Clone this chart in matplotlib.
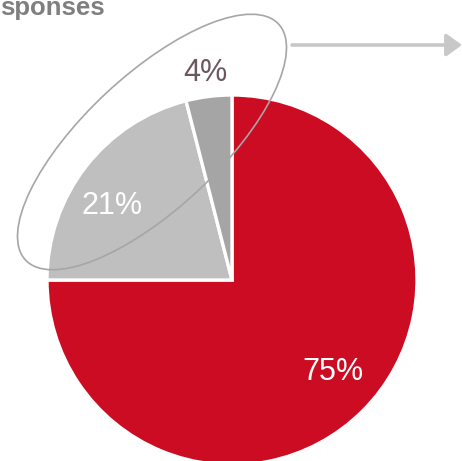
import matplotlib
matplotlib.use("Agg")
import matplotlib.pyplot as plt
from matplotlib.patches import Ellipse, FancyArrowPatch
import numpy as np

plt.rcParams['font.family'] = ['Liberation Sans', 'DejaVu Sans']

# Share of responses per answer
categories = ["Yes", "No", "Don't know"]
shares = [75, 21, 4]
slice_colors = ["#CB0C22", "#BFBFBF", "#A5A5A5"]
label_colors = ["white", "white", "#6B5661"]
# label placement: radial distance (fraction of radius) and angular nudge (deg)
label_dist = [0.74, 0.76, 1.13]
label_nudge = [2.5, 6.0, 0.0]
title = "sponses"

W, H = 462, 461
fig = plt.figure(figsize=(W / 100, H / 100), dpi=100)
ax = fig.add_axes([0, 0, 1, 1])

cx, cy, r = 232, H - 280, 185
wedges, _ = ax.pie(shares, colors=slice_colors, startangle=90, counterclock=False,
                   center=(cx, cy), radius=r,
                   wedgeprops=dict(edgecolor="white", linewidth=2.4))
ax.set_xlim(0, W)
ax.set_ylim(0, H)
ax.set_aspect("equal")
ax.axis("off")

# Percentage labels near each wedge's mid-angle
for w, v, c, d, n in zip(wedges, shares, label_colors, label_dist, label_nudge):
    ang = np.deg2rad((w.theta1 + w.theta2) / 2 + n)
    ax.text(cx + d * r * np.cos(ang), cy + d * r * np.sin(ang), f"{v}%",
            ha="center", va="center", fontsize=22, color=c)

# Ring highlighting the minority answers
ax.add_patch(Ellipse((152, H - 142), 346, 134, angle=43, fill=False,
                     edgecolor="#A6A6A6", linewidth=1.2))

# Pointer to the right
ax.add_patch(FancyArrowPatch((292, H - 45), (462, H - 45),
                             arrowstyle="-|>,head_length=0.94,head_width=0.68",
                             mutation_scale=10, color="#C8C8C8", linewidth=2.6,
                             shrinkA=0, shrinkB=0))

fig.text(0.5 / W, (H - 15) / H, title, ha="left", va="baseline",
         fontsize=18.5, fontweight="bold", color="#7F7F7F")

fig.savefig("out.png", dpi=100)
